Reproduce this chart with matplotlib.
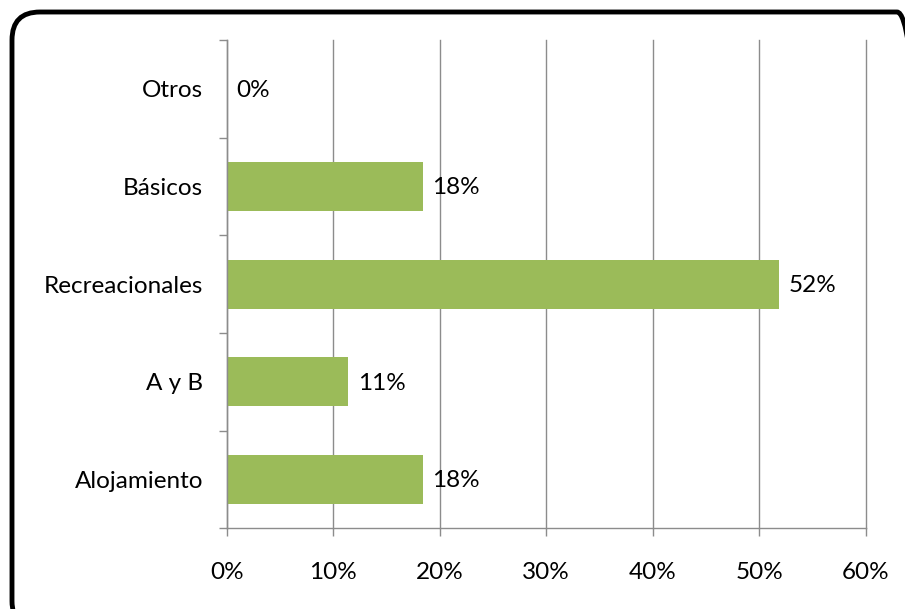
import numpy as np
import matplotlib
matplotlib.use("Agg")
import matplotlib.pyplot as plt
from matplotlib.patches import FancyBboxPatch
from matplotlib.ticker import FixedLocator, FuncFormatter


# chart data (shares in percent, bottom to top)
categories = ["Alojamiento", "A y B", "Recreacionales", "Básicos", "Otros"]
values = [18.4, 11.4, 51.9, 18.4, 0.0]
value_labels = ["18%", "11%", "52%", "18%", "0%"]
x_ticks = [0, 10, 20, 30, 40, 50, 60]

bar_color = "#9BBB59"
grid_color = "#8C8C8C"
font_size = 17.5

plt.rcParams["font.family"] = ["Lato", "DejaVu Sans"]

W, H = 905, 609
fig = plt.figure(figsize=(W / 100, H / 100), dpi=100)
ax = fig.add_axes([0.2505, 0.1325, 0.706, 0.802])

y = np.arange(len(categories))
ax.barh(y, values, height=0.5, color=bar_color, zorder=3)

# data labels just after each bar end
for yi, v, lab in zip(y, values, value_labels):
    ax.annotate(lab, (v, yi), xytext=(7, -1), textcoords="offset points",
                va="center", ha="left", fontsize=font_size, color="black")

ax.set_xlim(0, 60)
ax.set_ylim(-0.5, len(categories) - 0.5)

ax.set_xticks(x_ticks)
ax.xaxis.set_major_formatter(FuncFormatter(lambda v, p: "%d%%" % v))
ax.tick_params(axis="x", length=6, width=1, color=grid_color,
               pad=18, labelsize=font_size)

# category labels, with tick marks on the category boundaries
ax.set_yticks(y)
ax.set_yticklabels(categories)
ax.tick_params(axis="y", which="major", length=0, pad=17, labelsize=font_size)
ax.yaxis.set_minor_locator(FixedLocator(np.arange(-0.5, len(categories), 1.0)))
ax.tick_params(axis="y", which="minor", length=6, width=1, color=grid_color)

ax.grid(axis="x", color=grid_color, linewidth=1, zorder=0)
ax.set_axisbelow(True)
for line in ax.get_xgridlines():
    line.set_clip_on(False)

for side in ["top", "right"]:
    ax.spines[side].set_visible(False)
for side in ["left", "bottom"]:
    ax.spines[side].set_color(grid_color)
    ax.spines[side].set_linewidth(1)
    ax.spines[side].set_zorder(4)

# rounded black frame round the chart area (runs off the right/bottom edge)
x0, y0, x1, y1 = 12, -20, 925, 597
frame = FancyBboxPatch((x0 / W, y0 / H), (x1 - x0) / W, (y1 - y0) / H,
                       boxstyle="round,pad=0,rounding_size=%f" % (28 / W),
                       mutation_aspect=W / H,
                       transform=fig.transFigure, fill=False,
                       edgecolor="black", linewidth=3.5)
fig.patches.append(frame)

fig.savefig("out.png", dpi=100)
